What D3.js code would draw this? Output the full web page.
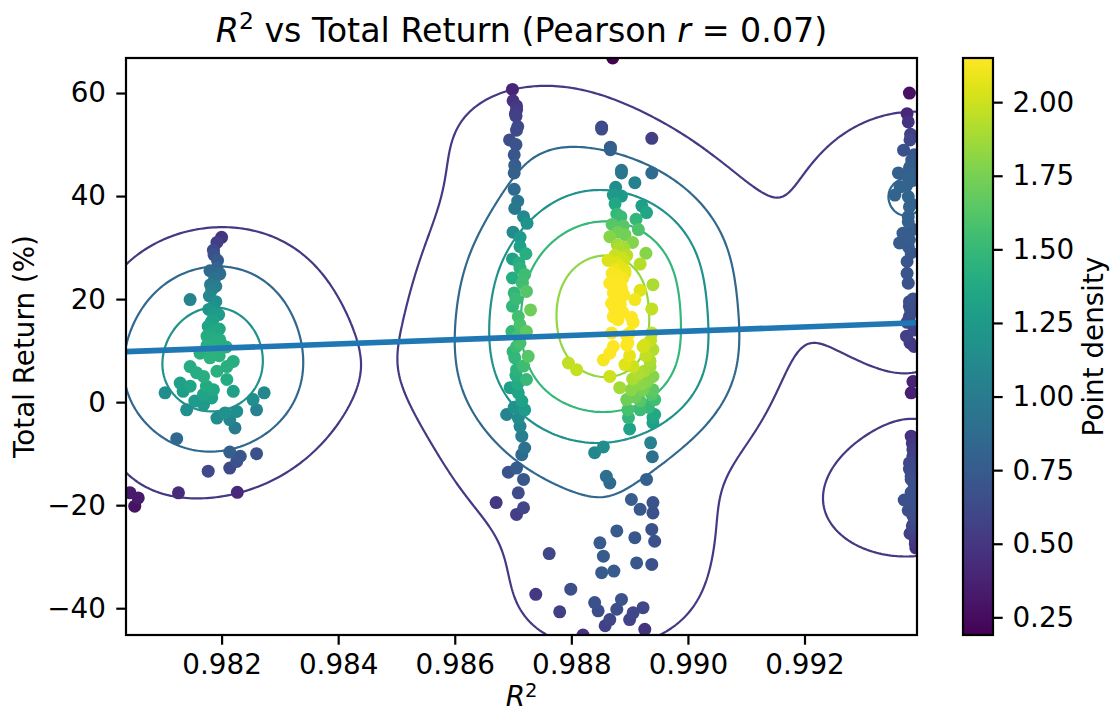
<!DOCTYPE html>
<html>
<head>
<meta charset="utf-8">
<script src="https://cdn.jsdelivr.net/npm/d3@7"></script>
<style>
  body { margin: 0; background: #fff; }
  text { font-family: "DejaVu Sans", sans-serif; fill: #000; }
</style>
</head>
<body>
<script>
//DATA: [R², total return %]
const leftGroup = [
  [0.98200,32.0],[0.98192,31.0],[0.98187,28.6],[0.98192,26.0],[0.98197,24.9],[0.98181,22.8],[0.98179,20.6],
  [0.98146,19.9],[0.98186,18.6],[0.98187,17.3],[0.98177,14.7],[0.98196,14.2],[0.98175,12.8],[0.98189,11.8],
  [0.98208,10.7],[0.98180,13.1],[0.98197,12.1],[0.98163,9.5],[0.98180,8.6],[0.98220,7.9],[0.98209,6.9],
  [0.98146,6.9],[0.98157,5.7],[0.98169,5.0],[0.98209,4.4],[0.98129,3.7],[0.98146,3.1],[0.98174,3.1],
  [0.98186,2.4],[0.98220,2.1],[0.98103,1.8],[0.98134,2.1],[0.98169,1.5],[0.98183,0.8],[0.98273,1.8],
  [0.98254,0.5],[0.98154,0.2],[0.98169,-0.5],[0.98140,-1.5],[0.98260,-1.5],[0.98226,-1.8],[0.98206,-2.1],
  [0.98192,-3.1],[0.98214,-3.4],[0.98223,-5.0],[0.98123,-7.1],[0.98214,-9.7],[0.98232,-10.5],[0.98260,-10.0],
  [0.98226,-11.5],[0.98214,-12.8],[0.98177,-13.4],[0.98126,-17.6],[0.98227,-17.5],[0.98043,-17.6],
  [0.98057,-18.6],[0.98051,-20.2],
  [0.98185,10.0],[0.98192,6.0],[0.98196,9.0],[0.98175,11.0],[0.98188,14.0],
  [0.98185,16.0],[0.98190,19.5],[0.98183,21.8],[0.98188,24.0],[0.98193,27.5],[0.98186,29.5],[0.98182,15.5],
  [0.98195,17.0],[0.98180,25.5],[0.98190,22.5],[0.98184,12.5],[0.98178,18.0]
]
const midGroup = [
  [0.98699,60.7],[0.98706,56.7],[0.98706,52.8],[0.98694,50.9],[0.98702,44.5],[0.98702,41.3],[0.98703,37.6],
  [0.98724,34.7],[0.98712,30.2],[0.98722,28.8],[0.98699,27.8],[0.98712,26.0],[0.98699,24.1],[0.98716,23.1],
  [0.98723,21.5],[0.98702,21.2],[0.98699,18.6],[0.98730,17.9],[0.98709,16.6],[0.98698,13.7],[0.98723,13.7],
  [0.98712,11.5],[0.98709,12.8],[0.98706,10.8],[0.98726,8.9],[0.98703,8.6],[0.98706,6.3],[0.98723,4.4],
  [0.98695,2.8],[0.98709,1.8],[0.98720,-1.5],[0.98689,-2.4],[0.98709,-3.1],[0.98712,-4.7],[0.98715,-6.6],
  [0.98720,-8.9],[0.98715,-10.2],[0.98706,-12.8],[0.98692,-13.6],[0.98718,-15.0],[0.98709,-17.6],
  [0.98671,-19.5],[0.98718,-20.5],[0.98706,-21.8],
  [0.98705,20.0],[0.98712,15.0],[0.98700,9.8],[0.98718,7.0],[0.98708,3.5],[0.98715,0.2],[0.98702,-1.0],
  [0.98720,24.8],[0.98710,27.0],[0.98705,5.2],
  [0.98705,55.5],[0.98702,48.0],[0.98708,39.0],[0.98700,33.0],[0.98712,32.0],[0.98718,36.0],
  [0.98706,57.5],[0.98704,56.0],[0.98708,53.5],[0.98700,58.5],[0.98703,46.0],[0.98705,50.0]
]
const centerGroup = [
  [0.98871,66.8],[0.98852,53.4],[0.98938,51.2],[0.98867,49.5],[0.98886,44.5],[0.98938,44.5],[0.98909,42.6],
  [0.98876,41.7],[0.98872,40.2],[0.98886,40.0],[0.98921,38.1],[0.98929,36.8],[0.98878,36.5],[0.98911,35.5],
  [0.98889,34.2],[0.98892,32.5],[0.98866,32.1],[0.98879,30.5],[0.98928,28.9],[0.98863,27.5],[0.98890,27.5],
  [0.98918,26.8],[0.98875,25.7],[0.98892,25.5],[0.98866,23.1],[0.98883,23.1],[0.98940,22.8],[0.98918,21.7],
  [0.98872,21.2],[0.98886,21.5],[0.98909,19.9],[0.98869,19.2],[0.98938,18.1],[0.98872,16.6],[0.98906,15.5],
  [0.98869,13.4],[0.98900,13.4],[0.98938,13.4],[0.98872,10.8],[0.98895,11.1],[0.98926,11.1],
  [0.98897,11.5],[0.98923,10.8],[0.98940,10.2],[0.98866,9.5],[0.98855,8.2],[0.98795,7.6],[0.98809,6.3],
  [0.98892,7.3],[0.98906,6.9],[0.98935,6.9],[0.98866,5.0],[0.98940,5.0],[0.98883,2.8],[0.98903,2.4],
  [0.98923,2.4],[0.98940,2.4],[0.98895,0.5],[0.98918,0.2],[0.98943,0.5],[0.98897,-1.5],[0.98918,-1.5],
  [0.98943,-2.4],[0.98940,-4.0],[0.98900,-5.2],[0.98936,-7.9],[0.98855,-8.7],[0.98840,-9.8],[0.98939,-10.6],
  [0.98860,-14.4],[0.98866,-15.7],[0.98929,-15.0],[0.98903,-18.9],[0.98918,-20.8],[0.98940,-19.5],
  [0.98940,-21.5],[0.98878,-25.0],[0.98909,-26.3],[0.98938,-24.7],[0.98943,-27.0],[0.98849,-27.3],
  [0.98855,-29.9],[0.98912,-31.2],[0.98938,-31.5],[0.98852,-33.1],[0.98873,-32.8],
  [0.98840,-38.9],[0.98886,-38.3],[0.98846,-40.5],[0.98878,-40.2],[0.98906,-40.9],
  [0.98923,-39.9],[0.98866,-42.2],[0.98900,-42.2],[0.98858,-43.4],[0.98926,-44.1],
  [0.98762,-29.4],[0.98739,-37.3],[0.98799,-36.3],[0.98780,-40.7],[0.98820,-45.2],
  [0.98878,27.0],[0.98884,26.2],[0.98880,24.5],[0.98888,24.0],[0.98876,23.0],[0.98886,22.2],[0.98882,21.0],
  [0.98878,20.2],[0.98890,20.8],[0.98884,19.0],[0.98874,18.2],[0.98888,17.5],[0.98880,16.0],[0.98892,25.0],
  [0.98870,25.0],[0.98875,28.5],[0.98886,28.0],[0.98882,30.0],
  [0.98935,8.0],[0.98930,4.0],[0.98925,6.0],[0.98938,1.5],[0.98932,-1.0],[0.98928,9.0],[0.98936,12.0],
  [0.98920,3.5],[0.98940,-3.0],[0.98915,5.5],
  [0.98900,9.0],[0.98905,4.5],[0.98895,13.0],[0.98910,1.0],[0.98898,-3.0],[0.98903,16.5],
  [0.98880,33.0],[0.98885,36.0],[0.98875,38.5],[0.98890,30.0],[0.98870,34.5],[0.98895,28.5],[0.98905,31.0],
  [0.98915,33.5],
  [0.98852,53.0],[0.98867,49.0],[0.98886,45.0]
]
const rightGroup = [
  [0.99380,60.0],[0.99378,54.4],[0.99381,50.9],[0.99370,48.9],[0.99384,47.0],[0.99361,44.5],[0.99382,44.4],
  [0.99364,41.8],[0.99355,40.2],[0.99378,39.9],[0.99380,37.9],[0.99378,35.0],[0.99369,32.8],[0.99363,30.9],
  [0.99378,30.2],[0.99376,27.3],[0.99378,23.1],[0.99380,18.6],[0.99380,16.6],[0.99375,12.8],[0.99381,11.5],
  [0.99388,10.8],[0.99386,4.0],[0.99383,1.8],[0.99383,-6.6],[0.99386,-9.2],[0.99380,-11.8],[0.99383,-14.4],
  [0.99371,-19.0],[0.99386,-19.5],[0.99386,-22.1],[0.99387,-24.7],[0.99390,-26.6],[0.99391,-28.3],
  [0.99380,45.5],[0.99385,43.0],[0.99375,42.0],[0.99388,48.0],[0.99383,38.5],[0.99378,36.0],[0.99386,33.5],
  [0.99380,31.5],[0.99383,29.0],[0.99376,25.0],[0.99386,20.0],[0.99380,19.5],[0.99383,17.5],[0.99376,15.5],
  [0.99388,14.0],[0.99385,-8.0],[0.99380,-13.0],[0.99388,-16.0],[0.99383,-17.5],[0.99378,-21.0],
  [0.99388,-23.5],[0.99381,-25.5],[0.99390,-27.5],
  [0.99380,44.0],[0.99383,46.0],[0.99378,43.5],[0.99382,18.0],[0.99379,16.0],[0.99385,19.0],[0.99382,52.0],
  [0.99376,56.0],
  [0.99386,-10.5],[0.99383,-15.0],[0.99388,-20.5],[0.99385,-24.0],[0.99388,-12.5]
]

//Axis limits and ticks
const xDomain = [0.98036, 0.99393]
const yDomain = [-45.2, 66.8]
const xTicks = [0.982, 0.984, 0.986, 0.988, 0.990, 0.992]
const yTicks = [-40, -20, 0, 20, 40, 60]

//Colour bar
const densityDomain = [0.19, 2.15]
const densityTicks = [0.25, 0.5, 0.75, 1.0, 1.25, 1.5, 1.75, 2.0]

//Contour levels and the range their colours are spread over
const contourLevels = [0.4, 0.8, 1.2, 1.6, 2.0]
const contourRange = [0, 2.4]

//Kernel width, as a multiple of Scott's rule in x and y
const bandwidth = [0.93, 1.0]

//Least squares line, value at each end of the x range
const fitY = [9.8, 15.4]

//Layout
const w = 1115
const h = 713
const plot = { left: 126, right: 917, top: 58, bottom: 635 }
const bar = { left: 963, right: 993 }
const fs = 27.8

const svg = d3.select('body')
  .append('svg')
  .attr('width', w)
  .attr('height', h)

const xScale = d3.scaleLinear().domain(xDomain).range([plot.left, plot.right])
const yScale = d3.scaleLinear().domain(yDomain).range([plot.bottom, plot.top])
const color = d3.scaleSequential(d3.interpolateViridis).domain(densityDomain)
const lineColor = d3.scaleSequential(d3.interpolateViridis).domain(contourRange)

////////////Gaussian KDE////////////
const all = [...leftGroup, ...midGroup, ...centerGroup, ...rightGroup]
const n = all.length
const mx = d3.mean(all, d => d[0])
const my = d3.mean(all, d => d[1])
let sxx = 0, syy = 0, sxy = 0
all.forEach(([a, b]) => {
  sxx += (a - mx) * (a - mx)
  syy += (b - my) * (b - my)
  sxy += (a - mx) * (b - my)
})
const f2 = Math.pow(n, -1 / 3)
const cxx = sxx / (n - 1) * f2 * bandwidth[0] * bandwidth[0]
const cyy = syy / (n - 1) * f2 * bandwidth[1] * bandwidth[1]
const cxy = sxy / (n - 1) * f2 * bandwidth[0] * bandwidth[1]
const det = cxx * cyy - cxy * cxy
const ixx = cyy / det, iyy = cxx / det, ixy = -cxy / det
const norm = 1 / (2 * Math.PI * Math.sqrt(det) * n)

function kde(px, py) {
  let s = 0
  for (let k = 0; k < n; k++) {
    const dx = px - all[k][0], dy = py - all[k][1]
    s += Math.exp(-0.5 * (ixx * dx * dx + 2 * ixy * dx * dy + iyy * dy * dy))
  }
  return s * norm
}

//Clip
svg.append('clipPath').attr('id', 'clip')
  .append('rect')
  .attr('x', plot.left).attr('y', plot.top)
  .attr('width', plot.right - plot.left).attr('height', plot.bottom - plot.top)

//Contours on a grid a bit bigger than the axes
const step = 3
const gx0 = plot.left - 60, gy0 = plot.top - 60
const nx = Math.ceil((plot.right - plot.left + 120) / step) + 1
const ny = Math.ceil((plot.bottom - plot.top + 120) / step) + 1
const grid = new Float64Array(nx * ny)
for (let j = 0; j < ny; j++) {
  const yv = yScale.invert(gy0 + j * step)
  for (let i = 0; i < nx; i++) {
    grid[j * nx + i] = kde(xScale.invert(gx0 + i * step), yv)
  }
}
const contours = d3.contours().size([nx, ny]).thresholds(contourLevels)(grid)
const gridPath = d3.geoPath(d3.geoTransform({
  point: function(px, py) { this.stream.point(gx0 + (px - 0.5) * step, gy0 + (py - 0.5) * step) }
}))

const inner = svg.append('g').attr('clip-path', 'url(#clip)')

inner.selectAll('path.contour')
  .data(contours)
  .enter()
  .append('path')
  .attr('class', 'contour')
  .attr('d', gridPath)
  .attr('fill', 'none')
  .attr('stroke', d => lineColor(d.value))
  .attr('stroke-width', 2.2)

//Points, densest on top
const pts = all.map(d => ({ x: d[0], y: d[1], z: kde(d[0], d[1]) }))
  .sort((a, b) => a.z - b.z)

inner.selectAll('circle')
  .data(pts)
  .enter()
  .append('circle')
  .attr('cx', d => xScale(d.x))
  .attr('cy', d => yScale(d.y))
  .attr('r', 6.5)
  .attr('fill', d => color(d.z))

//Fit line
inner.append('line')
  .attr('x1', xScale(xDomain[0])).attr('y1', yScale(fitY[0]))
  .attr('x2', xScale(xDomain[1])).attr('y2', yScale(fitY[1]))
  .attr('stroke', '#1f77b4')
  .attr('stroke-width', 5.6)

////////////Axes////////////
const xAxis = d3.axisBottom(xScale).tickValues(xTicks).tickFormat(d3.format('.3f'))
  .tickSize(9.7).tickSizeOuter(0).tickPadding(10)
const yAxis = d3.axisLeft(yScale).tickValues(yTicks).tickFormat(d3.format('d'))
  .tickSize(9.7).tickSizeOuter(0).tickPadding(10.3)

const gx = svg.append('g').attr('transform', 'translate(0,' + plot.bottom + ')').call(xAxis)
const gy = svg.append('g').attr('transform', 'translate(' + plot.left + ',0)').call(yAxis)
;[gx, gy].forEach(g => {
  g.select('.domain').remove()
  g.selectAll('line').attr('stroke', '#000').attr('stroke-width', 2.2)
  g.selectAll('text').style('font-size', fs + 'px').style('font-family', '"DejaVu Sans", sans-serif').attr('fill', '#000')
})

svg.append('rect')
  .attr('x', plot.left).attr('y', plot.top)
  .attr('width', plot.right - plot.left).attr('height', plot.bottom - plot.top)
  .attr('fill', 'none').attr('stroke', '#000').attr('stroke-width', 2.2)

//Title
const title = svg.append('text')
  .attr('x', (plot.left + plot.right) / 2)
  .attr('y', 42)
  .attr('text-anchor', 'middle')
  .style('font-size', '33.3px')
title.append('tspan').style('font-style', 'italic').text('R')
title.append('tspan').attr('dy', -13).style('font-size', '23.5px').text('2')
title.append('tspan').attr('dy', 13).text(' vs Total Return (Pearson ')
title.append('tspan').style('font-style', 'italic').text('r')
title.append('tspan').text(' = 0.07)')

//X label
const xl = svg.append('text')
  .attr('x', (plot.left + plot.right) / 2)
  .attr('y', 706)
  .attr('text-anchor', 'middle')
  .style('font-size', fs + 'px')
xl.append('tspan').style('font-style', 'italic').text('R')
xl.append('tspan').attr('dy', -9.5).style('font-size', '19.5px').text('2')

//Y label
svg.append('text')
  .attr('transform', 'translate(33.5,' + (plot.top + plot.bottom) / 2 + ') rotate(-90)')
  .attr('text-anchor', 'middle')
  .style('font-size', fs + 'px')
  .text('Total Return (%)')

////////////Colour bar////////////
const cScale = d3.scaleLinear().domain(densityDomain).range([plot.bottom, plot.top])
const grad = svg.append('defs').append('linearGradient')
  .attr('id', 'grad').attr('x1', 0).attr('y1', 1).attr('x2', 0).attr('y2', 0)
d3.range(0, 1.0001, 0.05).forEach(t => {
  grad.append('stop').attr('offset', t).attr('stop-color', d3.interpolateViridis(t))
})
svg.append('rect')
  .attr('x', bar.left).attr('y', plot.top)
  .attr('width', bar.right - bar.left).attr('height', plot.bottom - plot.top)
  .attr('fill', 'url(#grad)').attr('stroke', '#000').attr('stroke-width', 2.2)

const cAxis = d3.axisRight(cScale).tickValues(densityTicks).tickFormat(d3.format('.2f'))
  .tickSize(9.7).tickSizeOuter(0).tickPadding(9.7)
const gc = svg.append('g').attr('transform', 'translate(' + bar.right + ',0)').call(cAxis)
gc.select('.domain').remove()
gc.selectAll('line').attr('stroke', '#000').attr('stroke-width', 2.2)
gc.selectAll('text').style('font-size', fs + 'px').style('font-family', '"DejaVu Sans", sans-serif').attr('fill', '#000')

svg.append('text')
  .attr('transform', 'translate(1103,' + (plot.top + plot.bottom) / 2 + ') rotate(-90)')
  .attr('text-anchor', 'middle')
  .style('font-size', fs + 'px')
  .text('Point density')
</script>
</body>
</html>
